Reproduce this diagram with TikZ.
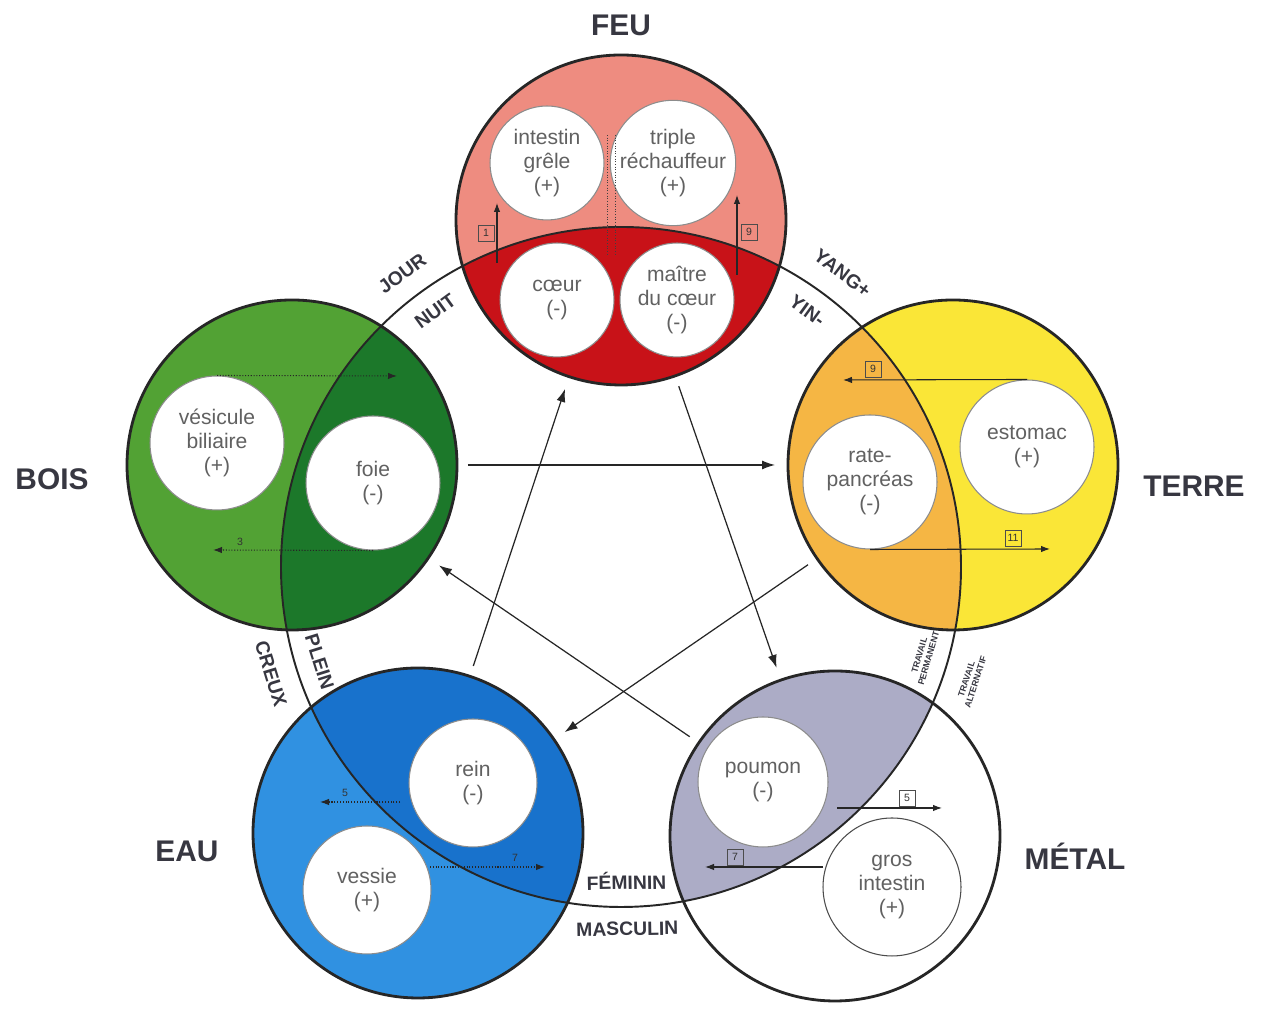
\documentclass[tikz,border=0pt]{standalone}
\usepackage{fontspec}
\setmainfont{Liberation Sans}
\usetikzlibrary{arrows.meta}

\definecolor{feuclair}{RGB}{238,140,128}
\definecolor{feufonce}{RGB}{200,18,24}
\definecolor{terreclair}{RGB}{250,230,55}
\definecolor{terrefonce}{RGB}{245,182,68}
\definecolor{boisclair}{RGB}{82,162,52}
\definecolor{boisfonce}{RGB}{28,120,42}
\definecolor{eauclair}{RGB}{48,145,225}
\definecolor{eaufonce}{RGB}{24,114,204}
\definecolor{metalgris}{RGB}{172,172,198}
\definecolor{encre}{RGB}{55,55,65}

\tikzset{
  organe/.style={circle, draw=black!45, line width=0.6pt, fill=white, inner sep=0pt,
    align=center, text=black!62, font=\fontsize{12}{13.5}\selectfont, minimum size=#1},
  organe/.default=2.68cm,
  titre/.style={font=\fontsize{17}{20}\selectfont\bfseries, text=encre},
  arclabel/.style={font=\fontsize{11}{12}\selectfont\bfseries, text=encre, inner sep=0pt},
  travail/.style={font=\fontsize{5}{5.5}\selectfont\bfseries, text=encre, align=center, inner sep=0pt},
  heure/.style={draw=black!70, line width=0.4pt, font=\fontsize{6}{6}\selectfont,
    text=black!80, inner sep=1pt, minimum size=0.32cm},
  heuretxt/.style={font=\fontsize{6}{6}\selectfont, text=black!80, inner sep=0pt},
  fleche/.style={-{Latex[length=2.6mm,width=1.8mm]}, line width=0.7pt, black!85,
    shorten <=3.52cm, shorten >=3.56cm},
  petite/.style={-{Latex[length=1.8mm,width=1.3mm]}, line width=0.6pt, black!85},
  pointille/.style={petite, densely dotted},
  contour/.style={line width=1.6pt, black!85},
  grandcercle/.style={line width=1.1pt, black!85}
}

\begin{document}
\begin{tikzpicture}[x=0.02cm, y=0.02cm]

    \useasboundingbox (0,0) rectangle (1262,1016);
    \fill[white] (0,0) rectangle (1262,1016);

    % Centre du grand cycle et des cinq éléments
    \coordinate (C) at (621,449);
    \coordinate (feu)   at (621,796);
    \coordinate (terre) at (953,551);
    \coordinate (metal) at (835,180);
    \coordinate (eau)   at (418,183);
    \coordinate (bois)  at (292,551);

    % Remplissage clair / foncé (partie intérieure au cycle)
    \foreach \n/\clair/\fonce in {feu/feuclair/feufonce, terre/terreclair/terrefonce,
        metal/white/metalgris, eau/eauclair/eaufonce, bois/boisclair/boisfonce}{
        \fill[\clair] (\n) circle (165);
        \begin{scope}
            \clip (\n) circle (165);
            \fill[\fonce] (C) circle (340);
        \end{scope}
    }

    % Grand cercle et contours
    \draw[grandcercle] (C) circle (340);
    \foreach \n in {feu,terre,metal,eau,bois}
        \draw[contour] (\n) circle (165);

    % Organes
    \node[organe=2.28cm] (intestin) at (547,853) {intestin\\grêle\\(+)};
    \node[organe=2.28cm] (triple)   at (673,853) {triple\\réchauffeur\\(+)};
    \node[organe=2.28cm] (coeur)    at (557,716) {cœur\\(-)};
    \node[organe=2.28cm] (maitre)   at (677,716) {maître\\du cœur\\(-)};

    \node[organe] (estomac) at (1027,569) {estomac\\(+)};
    \node[organe] (rate)    at (870,534)  {rate-\\pancréas\\(-)};

    \node[organe] (vesicule) at (217,573) {vésicule\\biliaire\\(+)};
    \node[organe] (foie)     at (373,533) {foie\\(-)};

    \node[organe=2.56cm] (rein)   at (473,233) {rein\\(-)};
    \node[organe=2.56cm] (vessie) at (367,126) {vessie\\(+)};

    \node[organe=2.6cm] (poumon) at (763,234) {poumon\\(-)};
    \node[organe=2.76cm, draw=black!70] (grosintestin) at (892,129) {gros\\intestin\\(+)};

    % Petites flèches internes (FEU)
    \coordinate (f1a) at (497,753); \coordinate (f1b) at (497,813);
    \coordinate (f9a) at (737,741); \coordinate (f9b) at (737,821);
    \draw[petite] (f1a) -- (f1b);
    \draw[petite] (f9a) -- (f9b);
    \node[heure] (h1) at (486,783) {1};
    \node[heure] (h9) at (749,784) {9};
    \coordinate (fm1) at (607,881); \coordinate (fm2) at (607,761);
    \coordinate (fm3) at (615,881); \coordinate (fm4) at (615,761);
    \draw[densely dotted, black!75, line width=0.5pt] (fm1) -- (fm2);
    \draw[densely dotted, black!75, line width=0.5pt] (fm3) -- (fm4);

    % TERRE
    \coordinate (t9) at (843,636);
    \coordinate (t11) at (1050,467);
    \draw[petite] (estomac.north) -- (t9);
    \draw[petite] (rate.south) -- (t11);
    \node[heure] (h9b)  at (873,647) {9};
    \node[heure] (h11)  at (1013,478) {11};

    % BOIS
    \coordinate (b1) at (397,640);
    \coordinate (b3) at (213,466);
    \draw[pointille] (vesicule.north) -- (b1);
    \draw[pointille] (foie.south) -- (b3);
    \node[heuretxt] (h3) at (240,474) {3};

    % EAU
    \coordinate (e5a) at (400,214); \coordinate (e5b) at (320,214);
    \coordinate (e7a) at (430,149); \coordinate (e7b) at (545,149);
    \draw[pointille] (e5a) -- (e5b);
    \draw[pointille] (e7a) -- (e7b);
    \node[heuretxt] (h5) at (345,223) {5};
    \node[heuretxt] (h7) at (515,158) {7};

    % MÉTAL
    \coordinate (m5a) at (837,208); \coordinate (m5b) at (942,208);
    \coordinate (m7a) at (823,149); \coordinate (m7b) at (705,149);
    \draw[petite] (m5a) -- (m5b);
    \draw[petite] (m7a) -- (m7b);
    \node[heure] (h5b) at (907,218) {5};
    \node[heure] (h7b) at (735,159) {7};

    % Cycle de contrôle (étoile)
    \draw[fleche] (bois)  -- (terre);
    \draw[fleche] (terre) -- (eau);
    \draw[fleche] (eau)   -- (feu);
    \draw[fleche] (feu)   -- (metal);
    \draw[fleche] (metal) -- (bois);

    % Noms des éléments
    \node[titre] (lfeu)   at (621,991) {FEU};
    \node[titre] (lterre) at (1194,530) {TERRE};
    \node[titre] (lmetal) at (1075,160) {MÉTAL};
    \node[titre] (leau)   at (187,165) {EAU};
    \node[titre] (lbois)  at (52,537) {BOIS};

    % Inscriptions le long du cycle
    \node[arclabel, rotate=36.7]  (jour)  at ([shift={(126.7:366)}]C) {JOUR};
    \node[arclabel, rotate=36]    (nuit)  at ([shift={(126:316)}]C)   {NUIT};
    \node[arclabel, rotate=-37]   (yang)  at ([shift={(53:368)}]C)    {YANG+};
    \node[arclabel, rotate=-36]   (yin)   at ([shift={(54:317)}]C)    {YIN-};
    \node[arclabel, rotate=-73]   (creux) at ([shift={(197:366)}]C)   {CREUX};
    \node[arclabel, rotate=-72.5] (plein) at ([shift={(197.5:316)}]C) {PLEIN};
    \node[arclabel, rotate=1]     (feminin)  at ([shift={(-89:314)}]C) {FÉMININ};
    \node[arclabel, rotate=1]     (masculin) at ([shift={(-89:362)}]C) {MASCULIN};
    \node[travail, rotate=73.5] (travperm) at ([shift={(-16.5:316)}]C) {TRAVAIL\\PERMANENT};
    \node[travail, rotate=72]   (travalt)  at ([shift={(-18:368)}]C)   {TRAVAIL\\ALTERNATIF};

\end{tikzpicture}
\end{document}
